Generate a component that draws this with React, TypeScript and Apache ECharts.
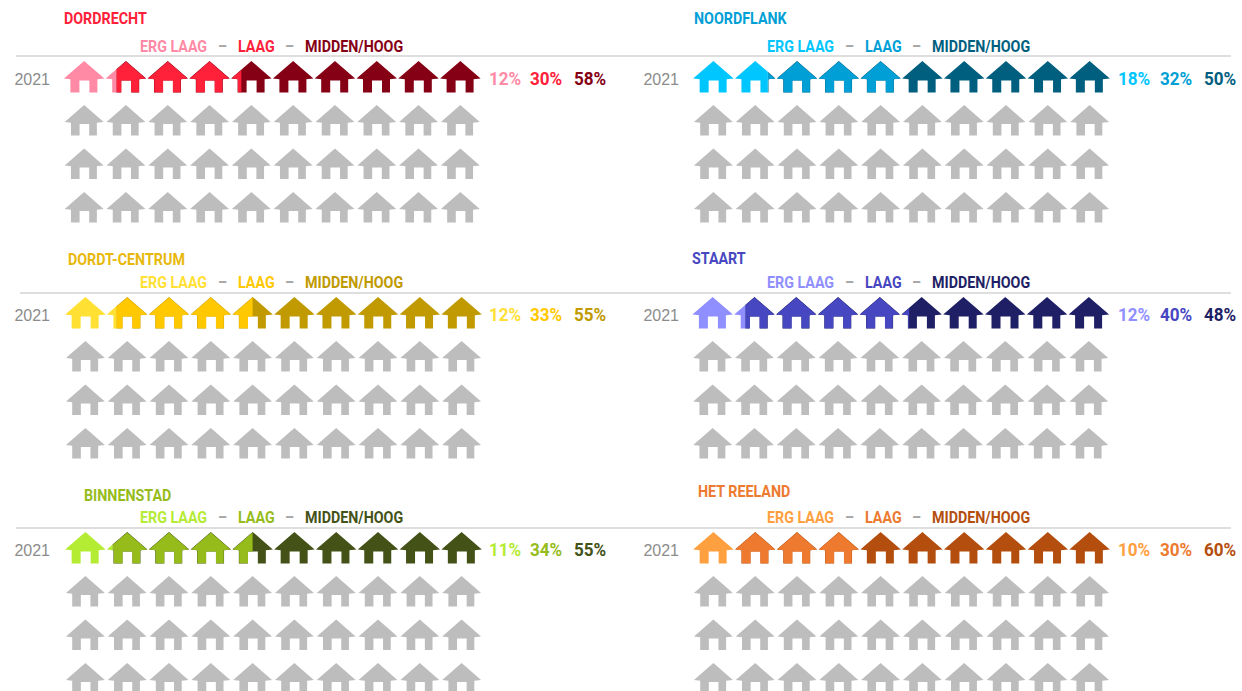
import React, { useEffect, useRef } from "react";
import * as echarts from "echarts";

// ---- data ----
const years = ["2021", "", "", ""];
const legendLabels = ["ERG LAAG", "LAAG", "MIDDEN/HOOG"];
const houseColumns = [0, 10, 20, 30, 40, 50, 60, 70, 80, 90];
const rowIndexes = [0, 1, 2, 3];

const dordrechtShares = [12.7, 29.9, 57.4];
const noordflankShares = [18, 32, 50];
const centrumShares = [12.4, 32.6, 55];
const staartShares = [12.8, 39.2, 48];
const binnenstadShares = [11.5, 33.5, 55];
const reelandShares = [10, 30, 60];

const dordrechtLabels = ["12%", "30%", "58%"];
const noordflankLabels = ["18%", "32%", "50%"];
const centrumLabels = ["12%", "33%", "55%"];
const staartLabels = ["12%", "40%", "48%"];
const binnenstadLabels = ["11%", "34%", "55%"];
const reelandLabels = ["10%", "30%", "60%"];

const GRAY = "#BDBDBD";
const TEXT_GRAY = "#8C8C8C";
const FONT = "Roboto";

const panels = [
  { title: "DORDRECHT", titleColor: "#FF2039", shares: dordrechtShares, labels: dordrechtLabels, colors: ["#FF8AA5", "#FF2039", "#860015"], titleX: 64, titleY: 19, legendY: 47, pctY: 78.5, gridX: 63.25, gridTop: 58, col: 0 },
  { title: "NOORDFLANK", titleColor: "#009FD6", shares: noordflankShares, labels: noordflankLabels, colors: ["#00C6FF", "#009FD6", "#005F7F"], titleX: 694, titleY: 19, legendY: 47, pctY: 78.5, gridX: 692.5, gridTop: 58, col: 1 },
  { title: "DORDT-CENTRUM", titleColor: "#E8B80C", shares: centrumShares, labels: centrumLabels, colors: ["#FFE033", "#FFC800", "#C09A00"], titleX: 68, titleY: 260, legendY: 283, pctY: 314.5, gridX: 64.5, gridTop: 294, col: 0 },
  { title: "STAART", titleColor: "#4747C2", shares: staartShares, labels: staartLabels, colors: ["#8F8FFF", "#4747C2", "#1F1F66"], titleX: 692, titleY: 259, legendY: 283, pctY: 314.5, gridX: 691.75, gridTop: 294, col: 1 },
  { title: "BINNENSTAD", titleColor: "#96BC1B", shares: binnenstadShares, labels: binnenstadLabels, colors: ["#B4EB33", "#96BC1B", "#445218"], titleX: 84, titleY: 496, legendY: 518, pctY: 549.5, gridX: 64.5, gridTop: 529, col: 0 },
  { title: "HET REELAND", titleColor: "#ED7A2E", shares: reelandShares, labels: reelandLabels, colors: ["#FFA040", "#ED7A2E", "#B44E0E"], titleX: 698, titleY: 492, legendY: 518, pctY: 549.5, gridX: 692.5, gridTop: 529, col: 1 },
];

const separators = [
  { y: 56, x1: 16 },
  { y: 293, x1: 20 },
  { y: 528, x1: 16 },
];

// house outline in pixels, relative to its top-centre
const HOUSE: number[][] = [
  [0, 0], [20.25, 17.6], [13.25, 18.4], [13.25, 31.7], [5.25, 31.7], [5.25, 19.7],
  [-4.75, 19.7], [-4.75, 31.7], [-13.75, 31.7], [-13.75, 18.4], [-20.25, 17.6],
];

function clipX(points: number[][], x: number, keepLeft: boolean) {
  const out: number[][] = [];
  const inside = (p: number[]) => (keepLeft ? p[0] <= x : p[0] >= x);
  for (let i = 0; i < points.length; i++) {
    const a = points[i];
    const b = points[(i + 1) % points.length];
    if (inside(a)) out.push(a);
    if (inside(a) !== inside(b)) {
      const t = (x - a[0]) / (b[0] - a[0]);
      out.push([x, a[1] + t * (b[1] - a[1])]);
    }
  }
  return out;
}

function buildOption() {
  const grid: any[] = [];
  const xAxis: any[] = [];
  const yAxis: any[] = [];
  const series: any[] = [];
  const graphic: any[] = [];

  separators.forEach((s) => {
    graphic.push({ type: "line", shape: { x1: s.x1, y1: s.y, x2: 1231, y2: s.y }, style: { stroke: "#BEBEBE", lineWidth: 1.2 } });
  });

  const text = (t: string, x: number, y: number, fill: string, size: number, sx: number) =>
    graphic.push({ type: "text", x, y, scaleX: sx, style: { text: t, fill, font: `bold ${size}px ${FONT}`, textVerticalAlign: "middle" } });

  panels.forEach((p, idx) => {
    grid.push({ left: p.gridX, top: p.gridTop, width: 418, height: 174, outerBoundsMode: "none", containLabel: false });
    xAxis.push({ gridIndex: idx, type: "value", min: 0, max: 100, show: false });
    yAxis.push({
      gridIndex: idx,
      type: "category",
      inverse: true,
      data: years,
      axisLine: { show: false },
      axisTick: { show: false },
      splitLine: { show: false },
      axisLabel: { show: true, interval: 0, color: TEXT_GRAY, fontSize: 16, fontFamily: "Liberation Sans", margin: p.gridX - (p.col ? 679 : 50) },
    });

    const cut1 = p.shares[0];
    const cut2 = p.shares[0] + p.shares[1];
    const data: number[][] = [];
    rowIndexes.forEach((r) => houseColumns.forEach((c) => data.push([c, r])));

    series.push({
      type: "custom",
      xAxisIndex: idx,
      yAxisIndex: idx,
      coordinateSystem: "cartesian2d",
      clip: false,
      silent: true,
      data,
      renderItem: (_: any, api: any) => {
        const col = api.value(0);
        const row = api.value(1);
        const left = api.coord([col, row]);
        const right = api.coord([col + 10, row]);
        const cx = (left[0] + right[0]) / 2;
        const cy = left[1];
        const s = row === 0 ? 1 : 0.96;
        const top = cy - 18.85 + (row === 0 ? 0 : 0.6);
        const pts = HOUSE.map((q) => [cx + q[0] * s, top + q[1] * s]);
        if (row !== 0) {
          return { type: "polygon", shape: { points: pts }, style: { fill: GRAY } };
        }
        // the middle band sits slightly inset on the dark band, so a thin dark edge shows round it
        const inset = HOUSE.map((q) => [cx + q[0] * 0.975, top + 0.5 + q[1] * 0.975]);
        const x1 = api.coord([cut1, row])[0];
        const x2 = api.coord([cut2, row])[0];
        const children: any[] = [];
        const add = (poly: number[][], fill: string) => {
          if (poly.length > 2) children.push({ type: "polygon", shape: { points: poly }, style: { fill } });
        };
        add(clipX(pts, x1, false), p.colors[2]);
        add(clipX(clipX(inset, x1, false), x2, true), p.colors[1]);
        add(clipX(pts, x1, true), p.colors[0]);
        return { type: "group", children };
      },
    });

    // panel title, legend line and percentage labels
    const lx = p.col ? [767, 865, 932] : [140, 238, 305];
    const dx = p.col ? [845, 912] : [218, 285];
    const pctX = p.col ? [1118, 1160, 1204] : [489, 530, 574];
    text(p.title, p.titleX, p.titleY, p.titleColor, 16, 0.893);
    legendLabels.forEach((l, i) => text(l, lx[i], p.legendY, p.colors[i], 16, 0.893));
    dx.forEach((x) => text("–", x, p.legendY, "#A6A6A6", 16, 0.893));
    p.labels.forEach((l, i) => text(l, pctX[i], p.pctY, p.colors[i], 19, 0.9));
  });

  return { animation: false, backgroundColor: "#ffffff", grid, xAxis, yAxis, series, graphic };
}

export default function App() {
  const ref = useRef<HTMLDivElement>(null);
  useEffect(() => {
    document.body.style.margin = "0";
    const chart = echarts.init(ref.current!, undefined, { renderer: "svg" });
    chart.setOption(buildOption() as any);
    return () => chart.dispose();
  }, []);
  return <div ref={ref} style={{ width: 1242, height: 691 }} />;
}
